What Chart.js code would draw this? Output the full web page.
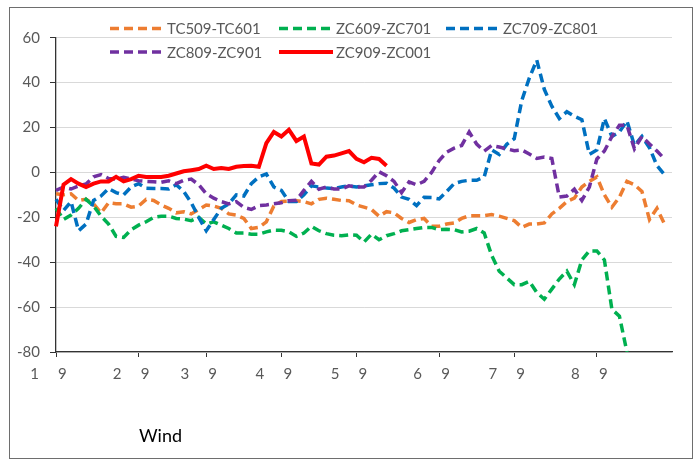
<!DOCTYPE html>
<html>
<head>
<meta charset="utf-8">
<script src="https://cdn.jsdelivr.net/npm/chart.js@4/dist/chart.umd.min.js"></script>
<style>
  body { margin: 0; background: #fff; }
  canvas { display: block; }
</style>
</head>
<body>
<canvas id="chart" width="698" height="461"></canvas>
<script>
// category slots, month ticks sit on these indexes
var slotCount = 83;
var tickSlots = [0, 11, 20, 30, 40, 51, 61, 72];
var tickLabels = ['1     9', '2     9', '3     9', '4     9', '5     9', '6     9', '7     9', '8     9'];

var seriesNames = ['TC509-TC601', 'ZC609-ZC701', 'ZC709-ZC801', 'ZC809-ZC901', 'ZC909-ZC001'];

var tc509 = [
  -9.5, -10, -9.5, -12.5, -12, -14, -18, -13.5, -14, -14,
  -15.5, -15, -12, -12.5, -14.5, -16, -18, -17.5, -18.5, -16.5,
  -14.5, -15, -16, -18.5, -19, -20.5, -25, -24.5, -22, -15,
  -13, -12.8, -12.6, -13, -14, -12, -11.5, -12, -12.5, -12.6,
  -14.5, -15.5, -16.5, -19.5, -17.5, -18, -20.5, -22.3, -21, -20.5,
  -24, -24, -23, -22.5, -20.5, -19.3, -19.3, -19.3, -18.8, -19.5,
  -20.5, -21.5, -24.5, -23, -23, -22.5, -18.5, -16, -13, -11.5,
  -6.5, -4, -2, -10, -15.5, -11, -4, -5.5, -8.5, -21,
  -16, -23
];
var zc609 = [
  -16, -21, -19, -16, -12, -15, -19.5, -23, -28.5, -29,
  -25.5, -23.5, -22, -20, -19.5, -19.5, -20.5, -20.8, -21.5, -20,
  -23, -22, -23.5, -25, -27, -27, -27.5, -27.5, -26.5, -25.7,
  -25.8, -26.5, -28.5, -27, -24, -26, -27.3, -28, -28.2, -27.8,
  -28, -31, -27.5, -30, -28.2, -27.3, -26, -25.5, -25, -24.5,
  -24.5, -25.5, -25.3, -25.5, -26.5, -26.2, -25, -27, -37, -44,
  -47, -50, -50, -48.5, -53.5, -56.5, -52, -47.5, -44, -50,
  -39, -35, -35, -39, -61, -64, -80
];
var zc709 = [
  -12, -17, -13, -26, -23, -12.5, -10.5, -7.2, -9, -10,
  -6.5, -5, -7, -7.2, -7.2, -7.4, -5.5, -8.5, -13.5, -20,
  -26, -21, -16, -14, -10, -10.5, -5, -2, -0.7, -6.5,
  -8, -13, -13, -10, -6, -6.5, -7, -7.2, -6.5, -6,
  -6.5, -6, -5.5, -5, -4.8, -7, -11, -12, -14.8, -11.1,
  -11.2, -11.8, -8.5, -5, -4, -3.5, -3.5, -2, 10, 8,
  12.5, 15, 32, 42, 50, 37, 29.5, 24, 27, 25,
  23.5, 8, 10, 24, 16, 18, 23, 12, 16, 11,
  3, -1
];
var zc809 = [
  -8, -6.5, -7.4, -6, -5.2, -2, -1, -2.7, -3, -2.2,
  -3, -3.7, -4, -4.2, -4.4, -3.7, -5, -3.5, -3, -5.5,
  -9.5, -11.5, -13, -14, -13, -15.6, -16.5, -14.8, -14.5, -14,
  -13.5, -12.6, -12.4, -8, -4, -7.5, -6.5, -7.4, -7.4, -6,
  -6.5, -6.5, -3.5, 0.3, -1.5, -4, -9, -4.2, -5.5, -4,
  0, 5.3, 9, 10.8, 12, 18, 12.6, 9.5, 12, 11.3,
  10.5, 9.7, 10, 8.2, 6.2, 6.8, 6.2, -11, -10.5, -7.5,
  -12.5, -6.5, 6, 9.5, 16, 21, 21, 10.5, 16, 12.7,
  9.5, 6
];
var zc909 = [
  -24, -5.5, -3, -5, -6.5, -5, -4, -4, -2, -4,
  -3, -1.5, -2, -2, -2, -1.5, -0.5, 0.5, 1, 1.5,
  3, 1.5, 2, 1.5, 2.5, 2.8, 3, 2.5, 13, 18,
  16, 19, 14, 16, 4, 3.5, 7, 7.5, 8.5, 9.5,
  6, 4.5, 6.5, 6, 3
];

var labels = [];
for (var i = 0; i < slotCount; i++) labels.push('');
tickSlots.forEach(function (slot, k) { labels[slot] = tickLabels[k]; });

var font = 'Lato';
var dash = [9, 5];

function series(name, values, color, order, dashed) {
  return {
    label: name,
    data: values,
    borderColor: color,
    backgroundColor: color,
    borderWidth: dashed ? 3.5 : 4,
    borderDash: dashed ? dash : [],
    borderCapStyle: 'butt',
    pointRadius: 0,
    tension: 0,
    fill: false,
    order: order
  };
}

// legend in two rows plus frame and the "Wind" note
var extras = {
  id: 'extras',
  afterDraw: function (chart) {
    var ctx = chart.ctx;
    var cols = [110, 279, 446];
    var rows = [28.5, 52];
    ctx.save();
    ctx.font = '15px ' + font;
    ctx.textBaseline = 'middle';
    chart.data.datasets.forEach(function (ds, n) {
      var x = cols[n % 3], y = rows[Math.floor(n / 3)];
      ctx.strokeStyle = ds.borderColor;
      ctx.lineWidth = ds.borderWidth;
      ctx.setLineDash(ds.borderDash);
      ctx.beginPath();
      ctx.moveTo(x, y);
      ctx.lineTo(x + 54, y);
      ctx.stroke();
      ctx.setLineDash([]);
      ctx.fillStyle = '#595959';
      ctx.fillText(ds.label, x + 57, y + 1);
    });
    ctx.fillStyle = '#000';
    ctx.font = '18px ' + font;
    ctx.fillText('Wind', 139, 436);
    ctx.strokeStyle = '#6e6e6e';
    ctx.lineWidth = 1;
    ctx.strokeRect(9.5, 7.5, 683, 451);
    ctx.restore();
  }
};

new Chart(document.getElementById('chart').getContext('2d'), {
  type: 'line',
  data: {
    labels: labels,
    datasets: [
      series(seriesNames[0], tc509, '#ED7D31', 5, true),
      series(seriesNames[1], zc609, '#00B050', 4, true),
      series(seriesNames[2], zc709, '#0070C0', 3, true),
      series(seriesNames[3], zc809, '#7030A0', 2, true),
      series(seriesNames[4], zc909, '#FF0000', 1, false)
    ]
  },
  options: {
    responsive: false,
    animation: false,
    events: [],
    layout: { padding: { left: 9, top: 37.7, right: 26, bottom: 0 } },
    plugins: { legend: { display: false }, tooltip: { enabled: false } },
    scales: {
      x: {
        grid: {
          drawOnChartArea: false,
          tickLength: 5,
          tickColor: function (c) { return labels[c.index] ? '#333' : 'rgba(0,0,0,0)'; }
        },
        border: { color: '#333', width: 1.3 },
        ticks: {
          autoSkip: false,
          maxRotation: 0,
          minRotation: 0,
          labelOffset: -7.5,
          padding: 8,
          color: '#595959',
          font: { family: font, size: 15 },
          callback: function (v, idx) { return labels[idx]; }
        },
        afterFit: function (s) { s.height = 109; }
      },
      y: {
        min: -80,
        max: 60,
        ticks: { stepSize: 20, padding: 10, color: '#595959', font: { family: font, size: 15 } },
        grid: { color: '#d9d9d9', tickColor: '#333', tickLength: 6 },
        border: { color: '#333', width: 1.3 },
        afterFit: function (s) { s.width = 47; }
      }
    }
  },
  plugins: [extras]
});
</script>
</body>
</html>
